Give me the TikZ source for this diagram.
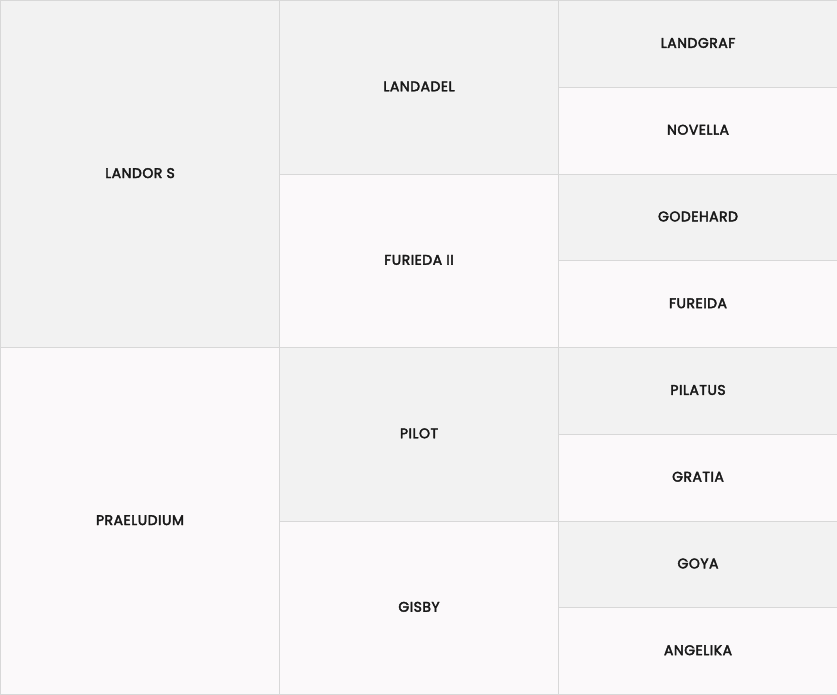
\documentclass[tikz,border=0pt]{standalone}
\usepackage{fontspec}
\setmainfont{Poppins}
\newfontfamily\cellfont{Poppins}[FakeBold=2.8,LetterSpace=3.5]
\usepackage{xcolor}
\usetikzlibrary{positioning}

\definecolor{cellgrey}{HTML}{F2F2F2}
\definecolor{cellwhite}{HTML}{FBF9FA}
\definecolor{cellline}{HTML}{D8D8D8}

\begin{document}
\begin{tikzpicture}[
  x=1pt,y=1pt,
  cell/.style={
    rectangle,draw=cellline,line width=1pt,
    minimum width=279pt,inner sep=0pt,anchor=north west,
    text height=8pt,text depth=0pt,
    font=\cellfont\fontsize{14}{16}\selectfont,text=black!90
  },
  sire/.style={cell,fill=cellgrey},
  dam/.style={cell,fill=cellwhite},
  gen1/.style={minimum height=347pt},
  gen2/.style={minimum height=173.5pt},
  gen3/.style={minimum height=86.75pt}
]

\useasboundingbox (0,0) rectangle (837,-694);

% first generation
\node[sire,gen1] (sire) at (0,0) {LANDOR S};
\node[dam,gen1] (dam) at (0,-347) {PRAELUDIUM};

% second generation
\node[sire,gen2] (ss) at (279,0) {LANDADEL};
\node[dam,gen2] (sd) at (279,-173.5) {FURIEDA II};
\node[sire,gen2] (ds) at (279,-347) {PILOT};
\node[dam,gen2] (dd) at (279,-520.5) {GISBY};

% third generation
\node[sire,gen3] (sss) at (558,0) {LANDGRAF};
\node[dam,gen3] (ssd) at (558,-86.75) {NOVELLA};
\node[sire,gen3] (sds) at (558,-173.5) {GODEHARD};
\node[dam,gen3] (sdd) at (558,-260.25) {FUREIDA};
\node[sire,gen3] (dss) at (558,-347) {PILATUS};
\node[dam,gen3] (dsd) at (558,-433.75) {GRATIA};
\node[sire,gen3] (dds) at (558,-520.5) {GOYA};
\node[dam,gen3] (ddd) at (558,-607.25) {ANGELIKA};

\end{tikzpicture}
\end{document}
